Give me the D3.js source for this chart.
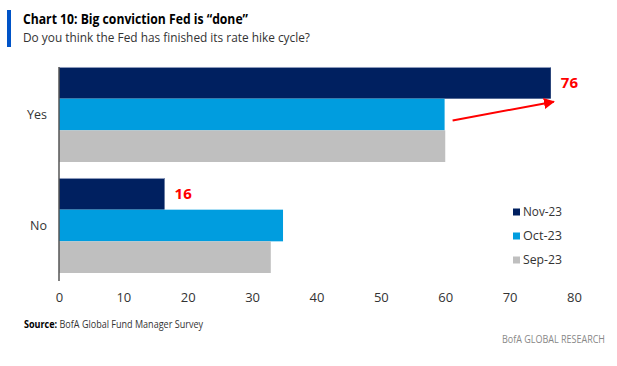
<!DOCTYPE html>
<html>
<head>
<meta charset="utf-8">
<script src="https://cdn.jsdelivr.net/npm/d3@7"></script>
<style>
  body { margin: 0; background: #fff; }
  svg { display: block; font-family: "Open Sans", "Noto Sans", sans-serif; }
</style>
</head>
<body>
<svg id="chart"></svg>
<script>
const width = 617, height = 366;

// data
const categories = ["Yes", "No"];
const seriesNames = ["Nov-23", "Oct-23", "Sep-23"];
const nov23 = [76.4, 16.4];
const oct23 = [59.9, 34.8];
const sep23 = [60, 32.9];
const xTicks = [0, 10, 20, 30, 40, 50, 60, 70, 80];

const seriesValues = [nov23, oct23, sep23];
const colors = ["#002060", "#009ddf", "#bfbfbf"];

const svg = d3.select('#chart')
    .attr("width", width)
    .attr("height", height);

// title block
svg.append('rect')
  .attr('x', 7).attr('y', 10).attr('width', 4).attr('height', 37)
  .attr('fill', '#0053c7');

svg.append('text')
  .attr('x', 23).attr('y', 24)
  .attr('font-size', 14).attr('font-weight', 'bold')
  .attr('fill', '#000')
  .attr('textLength', 225).attr('lengthAdjust', 'spacingAndGlyphs')
  .text('Chart 10: Big conviction Fed is \u201cdone\u201d');

svg.append('text')
  .attr('x', 23).attr('y', 42)
  .attr('font-size', 13)
  .attr('fill', '#333')
  .attr('textLength', 287).attr('lengthAdjust', 'spacingAndGlyphs')
  .text('Do you think the Fed has finished its rate hike cycle?');

const xScale = d3.scaleLinear()
  .domain([0, 80])
  .range([59, 574]);

const yScale = d3.scaleBand()
  .domain(categories)
  .range([59, 281])
  .paddingInner(0.144)
  .paddingOuter(0.072);

const sub = d3.scaleBand()
  .domain(seriesNames)
  .range([0, yScale.bandwidth()]);

// bars
seriesNames.forEach((s, si) => {
  svg.append('g')
    .selectAll('rect')
    .data(categories.map((c, ci) => ({ cat: c, value: seriesValues[si][ci] })))
    .enter()
    .append('rect')
      .attr('x', xScale(0))
      .attr('y', d => yScale(d.cat) + sub(s))
      .attr('width', d => xScale(d.value) - xScale(0))
      .attr('height', sub.bandwidth())
      .attr('fill', colors[si]);
});

// thin highlight on top of the Nov bars
svg.append('g')
  .selectAll('line')
  .data(categories.map((c, ci) => ({ cat: c, value: nov23[ci] })))
  .enter()
  .append('line')
    .attr('x1', xScale(0))
    .attr('x2', d => xScale(d.value))
    .attr('y1', d => yScale(d.cat) + 0.5)
    .attr('y2', d => yScale(d.cat) + 0.5)
    .attr('stroke', '#8e9cbd')
    .attr('stroke-width', 1);

// y axis line
svg.append('line')
  .attr('x1', xScale(0)).attr('x2', xScale(0))
  .attr('y1', 67).attr('y2', 281)
  .attr('stroke', '#555').attr('stroke-width', 1.5);

// category labels
svg.append('g')
  .selectAll('text')
  .data(categories)
  .enter()
  .append('text')
    .attr('x', 47)
    .attr('y', d => yScale(d) + yScale.bandwidth() / 2)
    .attr('dy', '0.35em')
    .attr('text-anchor', 'end')
    .attr('font-size', 12.5)
    .attr('fill', '#333')
    .text(d => d);

// x tick labels
const xAxis = d3.axisBottom(xScale)
  .tickValues(xTicks)
  .tickSize(0)
  .tickPadding(0);

const xAxisG = svg.append('g')
  .attr('transform', 'translate(0, 293)')
  .call(xAxis);
xAxisG.select('.domain').remove();
xAxisG.selectAll('text')
  .attr('font-size', 13)
  .attr('font-family', '"Open Sans", "Noto Sans", sans-serif')
  .attr('fill', '#333');

// legend
const legend = svg.append('g')
  .attr('transform', 'translate(513, 212)');
seriesNames.forEach((s, i) => {
  const row = legend.append('g').attr('transform', `translate(0, ${i * 24})`);
  row.append('rect')
    .attr('x', 0).attr('y', -3.5).attr('width', 7).attr('height', 7)
    .attr('fill', colors[i]);
  row.append('text')
    .attr('x', 10).attr('y', 0).attr('dy', '0.35em')
    .attr('font-size', 12.5).attr('fill', '#333')
    .attr('textLength', 39).attr('lengthAdjust', 'spacingAndGlyphs')
    .text(s);
});

// annotations
svg.append('defs').append('marker')
  .attr('id', 'arrow')
  .attr('viewBox', '0 0 10 10')
  .attr('refX', 9).attr('refY', 5)
  .attr('markerWidth', 5.5).attr('markerHeight', 5.5)
  .attr('orient', 'auto')
  .append('path')
    .attr('d', 'M0,0 L10,5 L0,10 z')
    .attr('fill', '#ff0000');

const yesOctMid = yScale('Yes') + sub('Oct-23') + sub.bandwidth() / 2;
svg.append('line')
  .attr('x1', xScale(oct23[0]) + 8)
  .attr('y1', yesOctMid + 6)
  .attr('x2', xScale(nov23[0]) + 3)
  .attr('y2', yScale('Yes') + sub('Oct-23') + 3)
  .attr('stroke', '#ff0000')
  .attr('stroke-width', 2)
  .attr('marker-end', 'url(#arrow)');

svg.append('g')
  .selectAll('text')
  .data(categories.map((c, ci) => ({ cat: c, value: nov23[ci] })))
  .enter()
  .append('text')
    .attr('x', d => xScale(d.value) + 10)
    .attr('y', d => yScale(d.cat) + sub('Nov-23') + sub.bandwidth() / 2)
    .attr('dy', '0.35em')
    .attr('font-size', 15).attr('font-weight', 'bold')
    .attr('fill', '#ff0000')
    .text(d => Math.round(d.value));

// source + footer
const src = svg.append('text')
  .attr('x', 24).attr('y', 324).attr('dy', '0.35em')
  .attr('font-size', 10).attr('fill', '#333')
  .attr('textLength', 179).attr('lengthAdjust', 'spacingAndGlyphs');
src.append('tspan').attr('font-weight', 'bold').attr('fill', '#000').text('Source:');
src.append('tspan').text(' BofA Global Fund Manager Survey');

svg.append('text')
  .attr('x', 605).attr('y', 339).attr('dy', '0.35em')
  .attr('text-anchor', 'end')
  .attr('font-size', 10).attr('fill', '#888')
  .attr('textLength', 103).attr('lengthAdjust', 'spacingAndGlyphs')
  .text('BofA GLOBAL RESEARCH');
</script>
</body>
</html>
